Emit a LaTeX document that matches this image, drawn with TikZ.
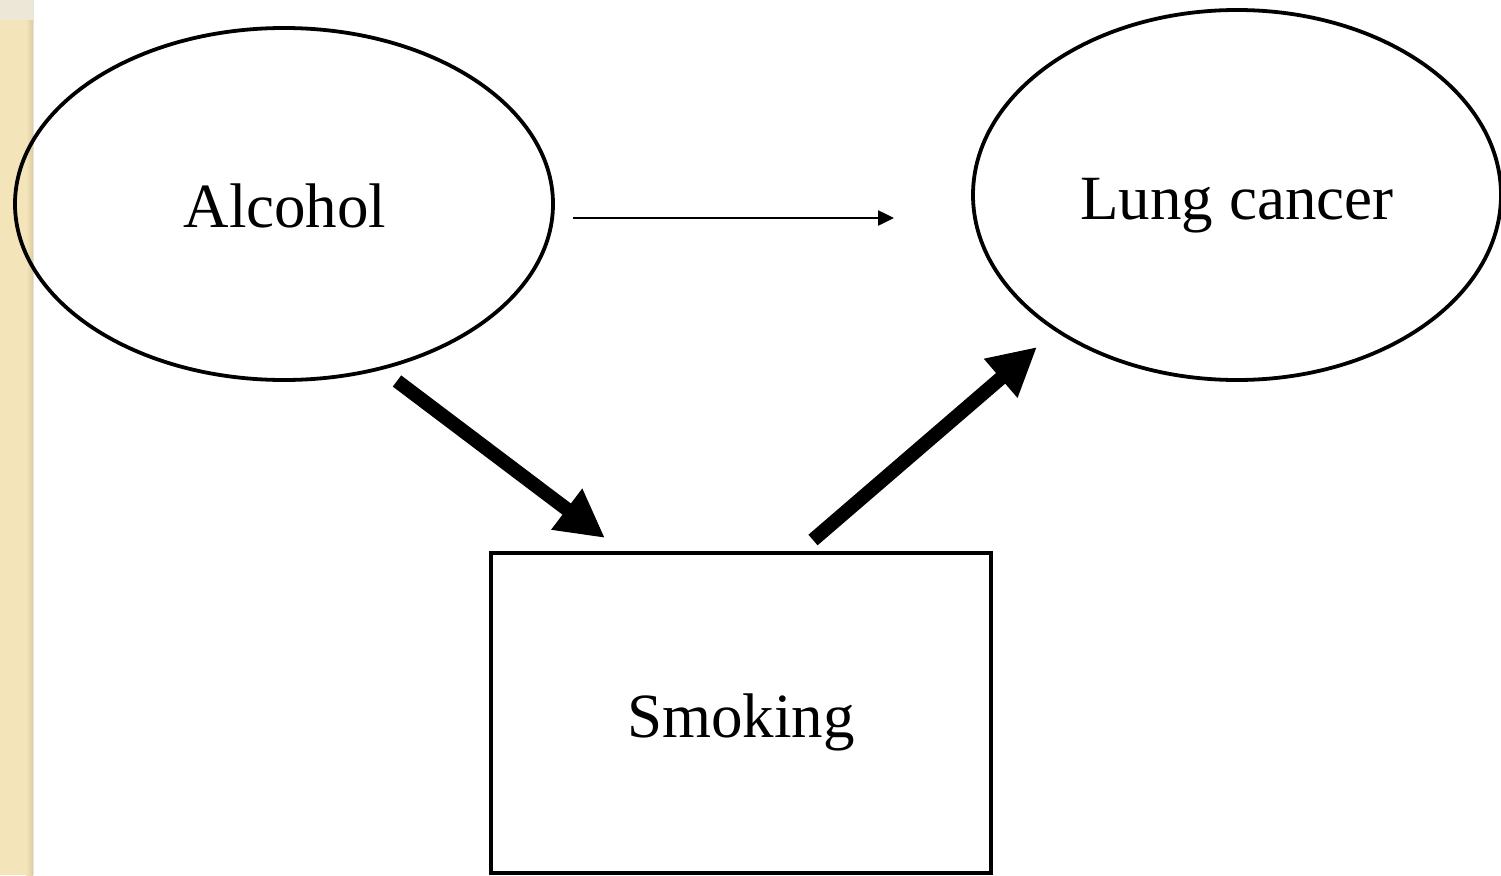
\documentclass[tikz,border=0pt]{standalone}
\usepackage{fontspec}
\setmainfont{Liberation Serif}
\usetikzlibrary{arrows.meta,shapes.geometric}
\definecolor{beige}{HTML}{F4E4BA}
\definecolor{beigedark}{HTML}{DCCCA0}
\definecolor{capc}{HTML}{ECE7D6}
\tikzset{
  ell/.style={draw=black, line width=3.8pt, ellipse, inner sep=0pt},
  box/.style={draw=black, line width=4.5pt, rectangle, inner sep=0pt},
  lbl/.style={font=\fontsize{63}{70}\selectfont},
  thick arrow/.style={line width=14pt, -{Triangle[length=48pt,width=48pt]}},
  thin arrow/.style={line width=2.5pt, -{Triangle[length=16pt,width=15pt]}}
}
\begin{document}
\begin{tikzpicture}[x=1pt,y=-1pt]
\useasboundingbox (0,0) rectangle (1501,875);
\fill[white] (0,0) rectangle (1501,875);
% left decorative strip
\fill[beige] (0,0) rectangle (33,875);
\shade[left color=beige, right color=beigedark] (26,0) rectangle (33,875);
\fill[capc] (0,0) rectangle (33,20);
\draw[beigedark!80!black!30, line width=0.6pt] (33.3,0) -- (33.3,875);
% nodes
\node[ell, minimum width=538pt, minimum height=352pt] (alc) at (284,204) {};
\node[lbl] (alct) at (285,206) {Alcohol};
\node[ell, minimum width=528pt, minimum height=370pt] (lung) at (1237,195) {};
\node[lbl] (lungt) at (1237,206) {Lung cancer};
\node[box, minimum width=500pt, minimum height=320pt] (smk) at (741,713) {};
\node[lbl] (smkt) at (741,722) {Smoking};
% connector endpoints
\coordinate (a1) at (397,381);
\coordinate (a2) at (605,538);
\coordinate (b1) at (813,540);
\coordinate (b2) at (1037,347);
\coordinate (c1) at (573,218);
\coordinate (c2) at (894,218);
\draw[thick arrow] (a1) -- (a2);
\draw[thick arrow] (b1) -- (b2);
\draw[thin arrow] (c1) -- (c2);
\end{tikzpicture}
\end{document}
